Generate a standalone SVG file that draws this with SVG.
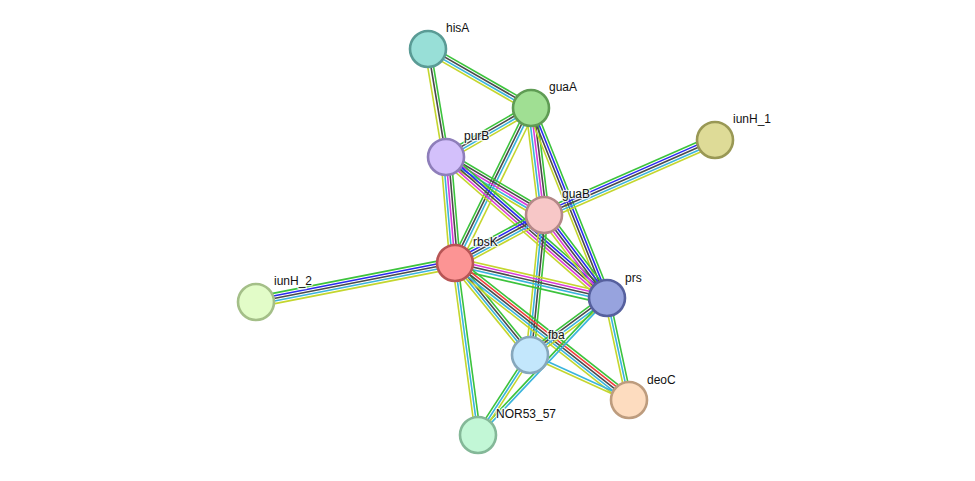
<svg xmlns="http://www.w3.org/2000/svg" width="975" height="481" viewBox="0 0 975 481">
<style>
#edges line{stroke-width:1.6;fill:none}
.g{stroke:#3cc33c}.r{stroke:#f03c3c}.b{stroke:#2a2af0}.k{stroke:#4a4a4a}.m{stroke:#d93ad9}.c{stroke:#3ab4dc}.y{stroke:#c4d62e}
.node circle{stroke-width:2.6}
.node text{font-family:"Liberation Sans",Arial,sans-serif;font-size:12px;fill:#111;stroke:#fff;stroke-width:2.5;stroke-opacity:0.8;paint-order:stroke;stroke-linejoin:round}
</style>
<rect width="975" height="481" fill="#fff"/>
<g id="edges">
<g id="e-hisA-guaA" transform="translate(428,49) rotate(29.8)"><line x2="118.7" y1="-3.9" y2="-3.9" class="g"/><line x2="118.7" y1="-1.3" y2="-1.3" class="k"/><line x2="118.7" y1="1.3" y2="1.3" class="c"/><line x2="118.7" y1="3.9" y2="3.9" class="y"/></g>
<g id="e-hisA-purB" transform="translate(428,49) rotate(80.5)"><line x2="109.5" y1="-2.6" y2="-2.6" class="g"/><line x2="109.5" y1="0" y2="0" class="k"/><line x2="109.5" y1="3.2" y2="3.2" class="y"/></g>
<g id="e-purB-guaA" transform="translate(446,157) rotate(-29.96)"><line x2="98.1" y1="-3.9" y2="-3.9" class="g"/><line x2="98.1" y1="-1.3" y2="-1.3" class="k"/><line x2="98.1" y1="1.3" y2="1.3" class="c"/><line x2="98.1" y1="3.9" y2="3.9" class="y"/></g>
<g id="e-rbsK-guaA" transform="translate(455,263) rotate(-63.88)"><line x2="172.6" y1="-3.9" y2="-3.9" class="g"/><line x2="172.6" y1="-1.3" y2="-1.3" class="k"/><line x2="172.6" y1="1.3" y2="1.3" class="c"/><line x2="172.6" y1="5" y2="5" class="y"/></g>
<g id="e-guaA-guaB" transform="translate(531,108) rotate(83.07)"><line x2="107.8" y1="-5.2" y2="-5.2" class="g"/><line x2="107.8" y1="-2.6" y2="-2.6" class="k"/><line x2="107.8" y1="0" y2="0" class="m"/><line x2="107.8" y1="2.6" y2="2.6" class="c"/><line x2="107.8" y1="5.2" y2="5.2" class="y"/></g>
<g id="e-guaA-prs" transform="translate(531,108) rotate(68.2)"><line x2="204.6" y1="-3.9" y2="-3.9" class="g"/><line x2="204.6" y1="-1.3" y2="-1.3" class="b"/><line x2="204.6" y1="1.3" y2="1.3" class="k"/><line x2="204.6" y1="3.9" y2="3.9" class="y"/></g>
<g id="e-purB-rbsK" transform="translate(446,157) rotate(85.15)"><line x2="106.4" y1="-5.2" y2="-5.2" class="g"/><line x2="106.4" y1="-2.6" y2="-2.6" class="k"/><line x2="106.4" y1="0" y2="0" class="m"/><line x2="106.4" y1="2.6" y2="2.6" class="c"/><line x2="106.4" y1="5.2" y2="5.2" class="y"/></g>
<g id="e-purB-guaB" transform="translate(446,157) rotate(30.62)"><line x2="113.9" y1="-5.2" y2="-5.2" class="g"/><line x2="113.9" y1="-2.6" y2="-2.6" class="k"/><line x2="113.9" y1="0" y2="0" class="m"/><line x2="113.9" y1="2.6" y2="2.6" class="c"/><line x2="113.9" y1="5.2" y2="5.2" class="y"/></g>
<g id="e-purB-prs" transform="translate(446,157) rotate(41.21)"><line x2="214" y1="-5.2" y2="-5.2" class="g"/><line x2="214" y1="-2.6" y2="-2.6" class="b"/><line x2="214" y1="0" y2="0" class="k"/><line x2="214" y1="2.6" y2="2.6" class="m"/><line x2="214" y1="5.2" y2="5.2" class="y"/></g>
<g id="e-rbsK-guaB" transform="translate(455,263) rotate(-28.34)"><line x2="101.1" y1="-5.2" y2="-5.2" class="g"/><line x2="101.1" y1="-2.6" y2="-2.6" class="b"/><line x2="101.1" y1="0" y2="0" class="k"/><line x2="101.1" y1="2.6" y2="2.6" class="c"/><line x2="101.1" y1="5.2" y2="5.2" class="y"/></g>
<g id="e-guaB-iunH_1" transform="translate(544,215) rotate(-23.68)"><line x2="186.7" y1="-5.2" y2="-5.2" class="g"/><line x2="186.7" y1="-2.6" y2="-2.6" class="b"/><line x2="186.7" y1="0" y2="0" class="k"/><line x2="186.7" y1="2.6" y2="2.6" class="c"/><line x2="186.7" y1="5.2" y2="5.2" class="y"/></g>
<g id="e-guaB-prs" transform="translate(544,215) rotate(52.8)"><line x2="104.2" y1="-5.2" y2="-5.2" class="g"/><line x2="104.2" y1="-2.6" y2="-2.6" class="b"/><line x2="104.2" y1="0" y2="0" class="k"/><line x2="104.2" y1="2.6" y2="2.6" class="m"/><line x2="104.2" y1="5.2" y2="5.2" class="y"/></g>
<g id="e-guaB-fba" transform="translate(544,215) rotate(95.71)"><line x2="140.7" y1="-3.9" y2="-3.9" class="g"/><line x2="140.7" y1="-1.3" y2="-1.3" class="k"/><line x2="140.7" y1="1.3" y2="1.3" class="c"/><line x2="140.7" y1="3.9" y2="3.9" class="y"/></g>
<g id="e-iunH_2-rbsK" transform="translate(256,302) rotate(-11.09)"><line x2="202.8" y1="-5.2" y2="-5.2" class="g"/><line x2="202.8" y1="-2.6" y2="-2.6" class="b"/><line x2="202.8" y1="0" y2="0" class="k"/><line x2="202.8" y1="2.6" y2="2.6" class="c"/><line x2="202.8" y1="5.2" y2="5.2" class="y"/></g>
<g id="e-rbsK-prs" transform="translate(455,263) rotate(12.97)"><line x2="156" y1="-5.2" y2="-5.2" class="y"/><line x2="156" y1="-2.6" y2="-2.6" class="m"/><line x2="156" y1="0" y2="0" class="k"/><line x2="156" y1="2.6" y2="2.6" class="c"/><line x2="156" y1="6" y2="6" class="g"/></g>
<g id="e-rbsK-fba" transform="translate(455,263) rotate(50.81)"><line x2="118.7" y1="-3.9" y2="-3.9" class="g"/><line x2="118.7" y1="-1.3" y2="-1.3" class="k"/><line x2="118.7" y1="1.3" y2="1.3" class="c"/><line x2="118.7" y1="3.9" y2="3.9" class="y"/></g>
<g id="e-rbsK-deoC" transform="translate(455,263) rotate(38.22)"><line x2="221.5" y1="-5.2" y2="-5.2" class="g"/><line x2="221.5" y1="-2.6" y2="-2.6" class="r"/><line x2="221.5" y1="0" y2="0" class="k"/><line x2="221.5" y1="2.6" y2="2.6" class="c"/><line x2="221.5" y1="5.2" y2="5.2" class="y"/></g>
<g id="e-rbsK-NOR53_57" transform="translate(455,263) rotate(82.38)"><line x2="173.5" y1="-2.6" y2="-2.6" class="g"/><line x2="173.5" y1="0" y2="0" class="c"/><line x2="173.5" y1="2.6" y2="2.6" class="y"/></g>
<g id="e-fba-prs" transform="translate(530,355) rotate(-36.51)"><line x2="95.8" y1="-3.9" y2="-3.9" class="g"/><line x2="95.8" y1="-1.3" y2="-1.3" class="k"/><line x2="95.8" y1="1.3" y2="1.3" class="c"/><line x2="95.8" y1="3.9" y2="3.9" class="y"/></g>
<g id="e-prs-deoC" transform="translate(607,298) rotate(77.83)"><line x2="104.3" y1="-2.6" y2="-2.6" class="g"/><line x2="104.3" y1="0" y2="0" class="c"/><line x2="104.3" y1="2.6" y2="2.6" class="y"/></g>
<g id="e-NOR53_57-prs" transform="translate(478,435) rotate(-46.72)"><line x2="188.2" y1="-1.3" y2="-1.3" class="g"/><line x2="188.2" y1="1.3" y2="1.3" class="c"/></g>
<g id="e-NOR53_57-fba" transform="translate(478,435) rotate(-56.98)"><line x2="95.4" y1="-2.6" y2="-2.6" class="g"/><line x2="95.4" y1="0" y2="0" class="c"/><line x2="95.4" y1="2.6" y2="2.6" class="y"/></g>
<g id="e-fba-deoC" transform="translate(530,355) rotate(24.44)"><line x2="108.7" y1="-1.3" y2="-1.3" class="c"/><line x2="108.7" y1="1.3" y2="1.3" class="y"/></g>
</g>
<g id="hisA" class="node"><circle cx="428" cy="49" r="18" fill="#98dfd7" stroke="#5a9b95"/><text x="446" y="32">hisA</text></g>
<g id="guaA" class="node"><circle cx="531" cy="108" r="18" fill="#a0df93" stroke="#5f9c54"/><text x="549" y="91">guaA</text></g>
<g id="iunH_1" class="node"><circle cx="715" cy="140" r="18" fill="#dedb97" stroke="#999855"/><text x="733" y="123">iunH_1</text></g>
<g id="purB" class="node"><circle cx="446" cy="157" r="18" fill="#d3c0fb" stroke="#8e7eba"/><text x="464" y="140">purB</text></g>
<g id="guaB" class="node"><circle cx="544" cy="215" r="18" fill="#f7c7c7" stroke="#b48888"/><text x="562" y="198">guaB</text></g>
<g id="rbsK" class="node"><circle cx="455" cy="263" r="18" fill="#fc9494" stroke="#b85555"/><text x="473" y="246">rbsK</text></g>
<g id="iunH_2" class="node"><circle cx="256" cy="302" r="18" fill="#e2fcc8" stroke="#a4bf88"/><text x="274" y="285">iunH_2</text></g>
<g id="prs" class="node"><circle cx="607" cy="298" r="18" fill="#97a3de" stroke="#56609e"/><text x="625" y="282">prs</text></g>
<g id="fba" class="node"><circle cx="530" cy="355" r="18" fill="#c3e7fc" stroke="#86a7bc"/><text x="548" y="339">fba</text></g>
<g id="deoC" class="node"><circle cx="629" cy="400" r="18" fill="#fddcbf" stroke="#bd9c7e"/><text x="647" y="384">deoC</text></g>
<g id="NOR53_57" class="node"><circle cx="478" cy="435" r="18" fill="#c2f7d6" stroke="#84b898"/><text x="496" y="418">NOR53_57</text></g>
</svg>
